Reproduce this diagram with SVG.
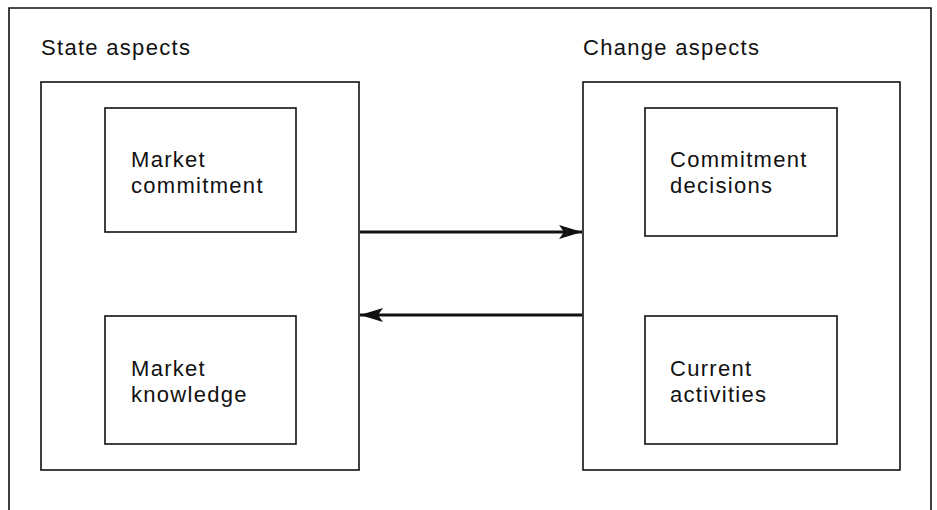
<svg xmlns="http://www.w3.org/2000/svg" width="937" height="510" viewBox="0 0 937 510">
  <style>
    .box { fill: none; stroke: #111; stroke-width: 1.6; }
    .link { fill: none; stroke: #111; stroke-width: 2.8; }
    text { font-family: "Liberation Sans", Arial, sans-serif; font-size: 22px; fill: #111; letter-spacing: 1.3px; }
  </style>
  <defs>
    <marker id="head" viewBox="0 0 23 14" refX="23" refY="7" markerWidth="23" markerHeight="14" markerUnits="userSpaceOnUse" orient="auto">
      <path d="M0,0 L23,7 L0,14 L5,7 Z" fill="#111"/>
    </marker>
  </defs>
  <rect width="937" height="510" fill="#fff"/>

  <!-- outer frame, open at the bottom edge -->
  <path class="box" d="M9,510 V8 H931 V510"/>

  <g id="state-aspects">
    <text x="41" y="55">State aspects</text>
    <rect class="box" x="41" y="82" width="318" height="388"/>
  </g>
  <g id="market-commitment">
    <rect class="box" x="105" y="108" width="191" height="124"/>
    <text x="131" y="167">Market</text>
    <text x="131" y="193">commitment</text>
  </g>
  <g id="market-knowledge">
    <rect class="box" x="105" y="316" width="191" height="128"/>
    <text x="131" y="376">Market</text>
    <text x="131" y="402">knowledge</text>
  </g>

  <g id="change-aspects">
    <text x="583" y="55">Change aspects</text>
    <rect class="box" x="583" y="82" width="317" height="388"/>
  </g>
  <g id="commitment-decisions">
    <rect class="box" x="645" y="108" width="192" height="128"/>
    <text x="670" y="167">Commitment</text>
    <text x="670" y="193">decisions</text>
  </g>
  <g id="current-activities">
    <rect class="box" x="645" y="316" width="192" height="128"/>
    <text x="670" y="376">Current</text>
    <text x="670" y="402">activities</text>
  </g>

  <g id="connectors">
    <line class="link" x1="360" y1="232" x2="582" y2="232" marker-end="url(#head)"/>
    <line class="link" x1="582" y1="315" x2="360" y2="315" marker-end="url(#head)"/>
  </g>
</svg>
